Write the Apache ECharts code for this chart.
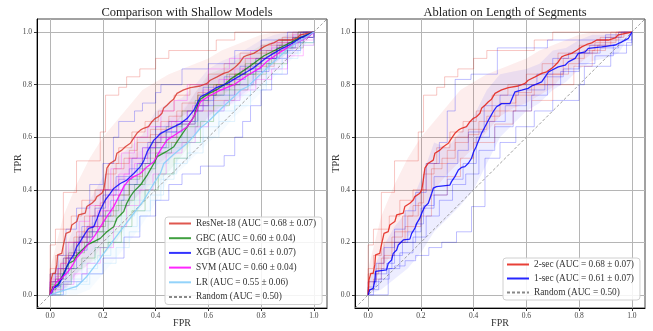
<!DOCTYPE html>
<html lang="en">
<head>
    <meta charset="UTF-8">
    <title>ROC curves</title>
    <style>
        html, body { margin: 0; padding: 0; background: #fff; }
        #main { width: 653px; height: 331px; }
    </style>
</head>
<body>
    <div id="main"></div>
    <script src="https://cdn.jsdelivr.net/npm/echarts@6.0.0/dist/echarts.min.js"></script>
    <script>
        // tick labels shared by both axes of both panels
        const tickVals = [0, 0.2, 0.4, 0.6, 0.8, 1.0];
        const tickLabels = ['0.0', '0.2', '0.4', '0.6', '0.8', '1.0'];

        // fpr grid used for the std bands
        const bandX = [0, 0.05, 0.1, 0.15, 0.2, 0.25, 0.3, 0.35, 0.4, 0.45, 0.5, 0.55, 0.6, 0.65, 0.7, 0.75, 0.8, 0.85, 0.9, 0.95, 1];

        // mean ROC curves [fpr, tpr]
        const resnetMean = [[0,0],[0.003,0.057],[0.01,0.082],[0.019,0.082],[0.025,0.114],[0.028,0.152],[0.044,0.158],[0.048,0.18],[0.06,0.234],[0.076,0.241],[0.082,0.266],[0.101,0.279],[0.108,0.304],[0.133,0.311],[0.139,0.336],[0.158,0.349],[0.171,0.361],[0.177,0.374],[0.196,0.387],[0.203,0.399],[0.209,0.437],[0.215,0.482],[0.228,0.501],[0.247,0.513],[0.253,0.539],[0.272,0.551],[0.285,0.564],[0.304,0.577],[0.316,0.596],[0.329,0.615],[0.342,0.627],[0.354,0.634],[0.373,0.64],[0.386,0.659],[0.399,0.672],[0.411,0.678],[0.424,0.691],[0.43,0.71],[0.443,0.722],[0.456,0.735],[0.468,0.745],[0.481,0.767],[0.506,0.78],[0.532,0.789],[0.569,0.795],[0.595,0.805],[0.607,0.817],[0.633,0.83],[0.658,0.843],[0.677,0.849],[0.696,0.862],[0.709,0.874],[0.721,0.887],[0.734,0.906],[0.747,0.912],[0.772,0.919],[0.791,0.931],[0.81,0.944],[0.829,0.953],[0.848,0.959],[0.867,0.97],[0.911,0.97],[0.937,0.978],[0.949,0.99],[1,1]];
        const gbcMean = [[0,0],[0.01,0.03],[0.03,0.04],[0.05,0.08],[0.07,0.12],[0.09,0.13],[0.1,0.15],[0.12,0.17],[0.14,0.19],[0.16,0.2],[0.19,0.215],[0.215,0.24],[0.241,0.259],[0.253,0.291],[0.279,0.317],[0.29,0.348],[0.304,0.374],[0.317,0.393],[0.342,0.418],[0.355,0.437],[0.368,0.456],[0.393,0.5],[0.406,0.526],[0.44,0.545],[0.469,0.564],[0.494,0.602],[0.52,0.64],[0.545,0.678],[0.558,0.72],[0.57,0.745],[0.6,0.765],[0.63,0.78],[0.66,0.8],[0.684,0.821],[0.722,0.846],[0.76,0.872],[0.811,0.91],[0.86,0.935],[0.913,0.961],[0.95,0.98],[1,1]];
        const xgbMean = [[0,0],[0.013,0.025],[0.032,0.038],[0.051,0.076],[0.063,0.108],[0.076,0.133],[0.089,0.152],[0.101,0.184],[0.114,0.203],[0.133,0.234],[0.146,0.253],[0.165,0.259],[0.178,0.291],[0.19,0.323],[0.209,0.361],[0.228,0.386],[0.241,0.405],[0.266,0.424],[0.291,0.437],[0.304,0.45],[0.317,0.462],[0.342,0.488],[0.355,0.51],[0.368,0.545],[0.38,0.565],[0.393,0.589],[0.405,0.6],[0.418,0.614],[0.443,0.627],[0.494,0.652],[0.52,0.672],[0.545,0.703],[0.57,0.754],[0.596,0.767],[0.633,0.79],[0.672,0.805],[0.697,0.82],[0.722,0.835],[0.748,0.85],[0.773,0.865],[0.798,0.885],[0.824,0.905],[0.849,0.92],[0.874,0.935],[0.913,0.955],[0.95,0.978],[1,1]];
        const svmMean = [[0,0],[0.013,0.03],[0.025,0.05],[0.04,0.06],[0.063,0.083],[0.082,0.108],[0.1,0.14],[0.127,0.171],[0.15,0.2],[0.171,0.228],[0.19,0.259],[0.215,0.298],[0.241,0.336],[0.266,0.386],[0.279,0.412],[0.298,0.437],[0.317,0.45],[0.342,0.462],[0.368,0.488],[0.393,0.507],[0.418,0.551],[0.443,0.589],[0.481,0.614],[0.52,0.64],[0.545,0.678],[0.57,0.735],[0.6,0.755],[0.646,0.779],[0.697,0.8],[0.748,0.835],[0.798,0.865],[0.824,0.89],[0.874,0.925],[0.925,0.955],[0.975,0.98],[1,1]];
        const lrMean = [[0,0],[0.03,0.01],[0.06,0.02],[0.101,0.032],[0.139,0.07],[0.177,0.12],[0.203,0.158],[0.241,0.209],[0.279,0.26],[0.317,0.31],[0.355,0.36],[0.393,0.424],[0.418,0.462],[0.431,0.5],[0.469,0.535],[0.52,0.577],[0.545,0.605],[0.57,0.635],[0.6,0.66],[0.62,0.68],[0.66,0.72],[0.697,0.754],[0.722,0.779],[0.748,0.792],[0.798,0.84],[0.824,0.865],[0.862,0.9],[0.9,0.935],[0.937,0.963],[0.97,0.98],[1,1]];
        const sec1Mean = [[0,0],[0.006,0.019],[0.019,0.025],[0.025,0.051],[0.028,0.089],[0.07,0.095],[0.076,0.12],[0.089,0.133],[0.095,0.158],[0.108,0.171],[0.114,0.19],[0.133,0.209],[0.158,0.212],[0.165,0.234],[0.177,0.253],[0.184,0.272],[0.196,0.292],[0.203,0.311],[0.215,0.336],[0.228,0.349],[0.241,0.387],[0.247,0.406],[0.259,0.412],[0.31,0.418],[0.316,0.431],[0.329,0.45],[0.342,0.475],[0.354,0.485],[0.367,0.488],[0.38,0.501],[0.392,0.52],[0.4,0.545],[0.41,0.565],[0.42,0.59],[0.43,0.615],[0.44,0.634],[0.45,0.653],[0.46,0.672],[0.474,0.697],[0.487,0.716],[0.506,0.728],[0.538,0.728],[0.551,0.76],[0.557,0.773],[0.582,0.779],[0.607,0.786],[0.62,0.795],[0.645,0.805],[0.658,0.811],[0.671,0.83],[0.684,0.849],[0.696,0.855],[0.721,0.868],[0.747,0.874],[0.759,0.887],[0.785,0.9],[0.797,0.919],[0.823,0.925],[0.835,0.938],[0.886,0.944],[0.937,0.951],[0.962,0.963],[0.987,0.976],[1,1]];

        // std bands (lower / upper) on bandX
        const resnetLow = [0,0.1,0.17,0.22,0.28,0.4,0.46,0.51,0.56,0.62,0.68,0.71,0.73,0.76,0.79,0.85,0.88,0.92,0.94,0.97,1];
        const resnetHigh = [0.1,0.3,0.42,0.52,0.6,0.66,0.72,0.78,0.81,0.84,0.86,0.88,0.9,0.93,0.95,0.97,0.99,1,1,1,1];
        const gbcLow = [0,0.02,0.08,0.12,0.15,0.2,0.28,0.34,0.42,0.47,0.53,0.6,0.68,0.72,0.76,0.8,0.85,0.88,0.92,0.95,1];
        const gbcHigh = [0.06,0.14,0.22,0.27,0.3,0.36,0.45,0.52,0.6,0.63,0.69,0.77,0.84,0.86,0.89,0.92,0.95,0.97,0.99,1,1];
        const xgbLow = [0,0.01,0.08,0.15,0.23,0.3,0.34,0.4,0.49,0.53,0.56,0.61,0.67,0.7,0.74,0.78,0.83,0.88,0.92,0.96,1];
        const xgbHigh = [0.07,0.16,0.28,0.36,0.45,0.52,0.56,0.61,0.7,0.73,0.75,0.8,0.86,0.89,0.91,0.94,0.97,0.99,1,1,1];
        const svmLow = [0,0.01,0.07,0.12,0.19,0.27,0.35,0.39,0.44,0.51,0.55,0.61,0.68,0.71,0.73,0.77,0.8,0.85,0.89,0.93,1];
        const svmHigh = [0.06,0.13,0.21,0.28,0.36,0.44,0.53,0.55,0.6,0.67,0.7,0.77,0.83,0.85,0.87,0.9,0.93,0.96,0.99,1,1];
        const lrLow = [0,0,0,0.02,0.08,0.14,0.2,0.27,0.35,0.44,0.48,0.53,0.58,0.62,0.68,0.72,0.77,0.83,0.88,0.93,1];
        const lrHigh = [0.05,0.06,0.09,0.16,0.24,0.31,0.38,0.44,0.52,0.61,0.64,0.69,0.74,0.78,0.83,0.87,0.91,0.95,0.98,1,1];
        const sec1Low = [0,0.02,0.06,0.1,0.16,0.24,0.29,0.34,0.4,0.5,0.6,0.65,0.7,0.73,0.78,0.81,0.86,0.89,0.9,0.92,1];
        const sec1High = [0.05,0.17,0.26,0.32,0.44,0.58,0.56,0.62,0.68,0.78,0.84,0.85,0.86,0.88,0.93,0.94,0.97,0.99,0.99,0.99,1];

        // per-fold ROC curves, points where tpr jumps (drawn as steps)
        const resnetFolds = [
            [[0,0],[0,0.19],[0.02,0.25],[0.05,0.39],[0.1,0.51],[0.19,0.62],[0.21,0.76],[0.26,0.79],[0.29,0.83],[0.34,0.86],[0.4,0.9],[0.45,0.93],[0.63,0.97],[0.7,1],[1,1]],
            [[0,0],[0,0.05],[0.03,0.1],[0.06,0.15],[0.1,0.2],[0.14,0.26],[0.2,0.3],[0.24,0.38],[0.3,0.45],[0.35,0.52],[0.4,0.58],[0.48,0.65],[0.55,0.7],[0.62,0.74],[0.7,0.8],[0.78,0.87],[0.85,0.93],[0.9,0.97],[0.95,1],[1,1]],
            [[0,0],[0,0.1],[0.02,0.15],[0.05,0.25],[0.08,0.3],[0.12,0.36],[0.17,0.4],[0.22,0.5],[0.26,0.56],[0.31,0.62],[0.36,0.66],[0.41,0.7],[0.47,0.76],[0.53,0.8],[0.6,0.84],[0.66,0.88],[0.72,0.92],[0.8,0.95],[0.88,0.98],[0.92,1],[1,1]],
            [[0,0],[0,0.08],[0.04,0.12],[0.06,0.2],[0.1,0.24],[0.15,0.3],[0.19,0.35],[0.21,0.46],[0.25,0.5],[0.3,0.55],[0.33,0.6],[0.38,0.63],[0.45,0.68],[0.5,0.73],[0.56,0.77],[0.62,0.8],[0.68,0.84],[0.74,0.9],[0.82,0.93],[0.86,0.96],[0.94,1],[1,1]],
            [[0,0],[0,0.02],[0.02,0.06],[0.05,0.14],[0.09,0.22],[0.13,0.3],[0.17,0.34],[0.2,0.4],[0.24,0.48],[0.28,0.52],[0.33,0.58],[0.38,0.61],[0.42,0.66],[0.48,0.7],[0.56,0.76],[0.63,0.8],[0.7,0.84],[0.76,0.88],[0.8,0.92],[0.87,0.95],[0.92,0.98],[0.97,1],[1,1]]
        ];
        const gbcFolds = [
            [[0,0],[0,0.04],[0.03,0.08],[0.06,0.14],[0.1,0.2],[0.15,0.24],[0.2,0.28],[0.25,0.34],[0.3,0.42],[0.35,0.48],[0.4,0.56],[0.45,0.6],[0.5,0.66],[0.55,0.74],[0.6,0.8],[0.67,0.84],[0.74,0.88],[0.8,0.93],[0.88,0.97],[0.94,1],[1,1]],
            [[0,0],[0.02,0],[0.04,0.04],[0.08,0.1],[0.12,0.14],[0.17,0.18],[0.22,0.2],[0.27,0.26],[0.31,0.32],[0.36,0.4],[0.41,0.46],[0.47,0.52],[0.52,0.58],[0.57,0.66],[0.62,0.72],[0.68,0.78],[0.75,0.84],[0.82,0.88],[0.9,0.94],[0.96,0.98],[1,1]],
            [[0,0],[0,0.02],[0.02,0.06],[0.05,0.1],[0.09,0.16],[0.13,0.2],[0.18,0.24],[0.22,0.3],[0.27,0.36],[0.32,0.42],[0.36,0.5],[0.4,0.54],[0.46,0.58],[0.52,0.64],[0.56,0.72],[0.6,0.76],[0.66,0.8],[0.72,0.84],[0.78,0.9],[0.86,0.94],[0.92,0.98],[1,1]],
            [[0,0],[0.01,0.05],[0.04,0.1],[0.07,0.16],[0.11,0.22],[0.16,0.26],[0.21,0.32],[0.26,0.38],[0.3,0.44],[0.34,0.5],[0.38,0.58],[0.44,0.64],[0.5,0.7],[0.56,0.76],[0.63,0.8],[0.7,0.84],[0.76,0.88],[0.84,0.92],[0.9,0.96],[1,1]]
        ];
        const xgbFolds = [
            [[0,0],[0,0.08],[0.03,0.15],[0.06,0.25],[0.1,0.33],[0.15,0.42],[0.2,0.5],[0.24,0.6],[0.26,0.66],[0.32,0.7],[0.35,0.73],[0.4,0.77],[0.42,0.8],[0.5,0.86],[0.6,0.88],[0.7,0.93],[0.8,0.97],[0.9,1],[1,1]],
            [[0,0],[0.05,0],[0.05,0.05],[0.12,0.08],[0.2,0.14],[0.28,0.22],[0.34,0.3],[0.4,0.36],[0.45,0.42],[0.5,0.46],[0.57,0.49],[0.66,0.53],[0.7,0.6],[0.73,0.66],[0.76,0.72],[0.8,0.78],[0.84,0.84],[0.9,0.93],[0.95,1],[1,1]],
            [[0,0],[0,0.03],[0.04,0.08],[0.07,0.15],[0.11,0.22],[0.16,0.3],[0.2,0.38],[0.25,0.45],[0.3,0.48],[0.35,0.56],[0.4,0.64],[0.45,0.66],[0.52,0.7],[0.58,0.79],[0.66,0.83],[0.72,0.87],[0.78,0.9],[0.86,0.95],[0.92,0.98],[1,1]],
            [[0,0],[0.01,0.03],[0.03,0.06],[0.06,0.1],[0.1,0.17],[0.14,0.24],[0.18,0.3],[0.23,0.36],[0.28,0.42],[0.33,0.5],[0.38,0.56],[0.44,0.62],[0.5,0.66],[0.56,0.74],[0.62,0.78],[0.68,0.82],[0.74,0.86],[0.8,0.9],[0.86,0.94],[0.93,0.98],[1,1]],
            [[0,0],[0,0.05],[0.02,0.1],[0.05,0.14],[0.09,0.2],[0.12,0.26],[0.17,0.33],[0.21,0.4],[0.26,0.44],[0.31,0.52],[0.37,0.58],[0.42,0.62],[0.48,0.65],[0.55,0.72],[0.62,0.76],[0.7,0.8],[0.77,0.85],[0.83,0.9],[0.9,0.96],[0.96,1],[1,1]]
        ];
        const svmFolds = [
            [[0,0],[0,0.05],[0.03,0.1],[0.06,0.14],[0.1,0.2],[0.14,0.26],[0.18,0.32],[0.22,0.38],[0.26,0.46],[0.3,0.52],[0.35,0.56],[0.4,0.6],[0.46,0.66],[0.52,0.7],[0.58,0.78],[0.64,0.82],[0.7,0.86],[0.76,0.9],[0.84,0.94],[0.9,0.97],[1,1]],
            [[0,0],[0.02,0.02],[0.05,0.04],[0.09,0.08],[0.14,0.12],[0.19,0.18],[0.24,0.26],[0.29,0.34],[0.34,0.4],[0.39,0.46],[0.44,0.54],[0.5,0.58],[0.55,0.64],[0.6,0.7],[0.66,0.74],[0.72,0.78],[0.78,0.82],[0.84,0.86],[0.9,0.91],[0.96,0.95],[1,1]],
            [[0,0],[0,0.03],[0.02,0.07],[0.05,0.1],[0.08,0.16],[0.12,0.22],[0.16,0.26],[0.2,0.32],[0.24,0.4],[0.28,0.46],[0.32,0.5],[0.37,0.54],[0.42,0.6],[0.48,0.66],[0.54,0.72],[0.6,0.78],[0.66,0.82],[0.73,0.86],[0.8,0.9],[0.87,0.94],[0.94,0.98],[1,1]],
            [[0,0],[0,0.06],[0.04,0.12],[0.07,0.2],[0.11,0.28],[0.15,0.34],[0.19,0.4],[0.23,0.48],[0.27,0.54],[0.32,0.6],[0.37,0.64],[0.42,0.7],[0.47,0.74],[0.52,0.8],[0.6,0.86],[0.68,0.9],[0.76,0.93],[0.84,0.96],[0.92,0.99],[1,1]]
        ];
        const lrFolds = [
            [[0,0],[0.03,0],[0.06,0.02],[0.1,0.04],[0.15,0.08],[0.2,0.12],[0.25,0.18],[0.3,0.24],[0.34,0.3],[0.38,0.36],[0.42,0.44],[0.47,0.5],[0.52,0.54],[0.58,0.6],[0.64,0.66],[0.7,0.72],[0.76,0.78],[0.82,0.84],[0.88,0.9],[0.94,0.95],[1,1]],
            [[0,0],[0,0.02],[0.04,0.04],[0.08,0.06],[0.12,0.12],[0.17,0.18],[0.22,0.24],[0.27,0.3],[0.32,0.36],[0.36,0.42],[0.4,0.5],[0.45,0.56],[0.5,0.6],[0.55,0.66],[0.6,0.7],[0.66,0.74],[0.72,0.8],[0.78,0.86],[0.85,0.92],[0.92,0.96],[1,1]],
            [[0,0],[0.02,0],[0.05,0.03],[0.1,0.05],[0.14,0.1],[0.18,0.15],[0.23,0.2],[0.28,0.26],[0.33,0.32],[0.38,0.38],[0.43,0.46],[0.48,0.52],[0.53,0.58],[0.58,0.64],[0.64,0.7],[0.7,0.76],[0.76,0.8],[0.82,0.86],[0.88,0.92],[0.95,0.96],[1,1]]
        ];
        const sec1Folds = [
            [[0,0],[0.076,0],[0.076,0.1],[0.1,0.11],[0.14,0.13],[0.18,0.15],[0.23,0.18],[0.279,0.2],[0.335,0.24],[0.392,0.336],[0.443,0.52],[0.5,0.58],[0.56,0.64],[0.63,0.7],[0.7,0.74],[0.8,0.8],[0.82,0.87],[0.92,0.92],[0.98,0.96],[1,1]],
            [[0,0],[0,0.05],[0.03,0.12],[0.06,0.18],[0.1,0.25],[0.14,0.32],[0.18,0.39],[0.22,0.5],[0.27,0.58],[0.3,0.7],[0.33,0.82],[0.39,0.84],[0.49,0.94],[0.68,0.97],[0.9,0.99],[0.95,1],[1,1]],
            [[0,0],[0,0.03],[0.03,0.08],[0.07,0.12],[0.1,0.2],[0.15,0.24],[0.2,0.33],[0.25,0.38],[0.3,0.44],[0.36,0.5],[0.41,0.6],[0.46,0.66],[0.52,0.72],[0.6,0.78],[0.67,0.83],[0.74,0.86],[0.8,0.92],[0.88,0.94],[0.95,0.97],[1,1]],
            [[0,0],[0.02,0.02],[0.04,0.06],[0.08,0.1],[0.12,0.16],[0.17,0.22],[0.22,0.3],[0.27,0.36],[0.32,0.42],[0.37,0.46],[0.42,0.55],[0.48,0.64],[0.55,0.7],[0.62,0.76],[0.68,0.8],[0.73,0.85],[0.8,0.88],[0.86,0.91],[0.93,0.95],[1,1]],
            [[0,0],[0,0.02],[0.02,0.05],[0.05,0.1],[0.09,0.15],[0.13,0.2],[0.18,0.27],[0.21,0.34],[0.25,0.45],[0.3,0.5],[0.34,0.55],[0.38,0.62],[0.44,0.72],[0.5,0.76],[0.57,0.8],[0.64,0.84],[0.7,0.9],[0.76,0.92],[0.84,0.95],[0.9,0.98],[0.96,1],[1,1]]
        ];
        const chanceLine = [[-0.05, -0.05], [1.05, 1.05]];

        const leftNames = ['ResNet-18 (AUC = 0.68 \u00b1 0.07)', 'GBC (AUC = 0.60 \u00b1 0.04)', 'XGB (AUC = 0.61 \u00b1 0.07)', 'SVM (AUC = 0.60 \u00b1 0.04)', 'LR (AUC = 0.55 \u00b1 0.06)', 'Random (AUC = 0.50)'];
        const rightNames = ['2-sec (AUC = 0.68 \u00b1 0.07)', '1-sec (AUC = 0.61 \u00b1 0.07)', 'Random (AUC = 0.50)'];

        const FONT = 'Liberation Serif';
        const myChart = echarts.init(document.getElementById('main'), null, { renderer: 'canvas' });

        function rgba(c, a) { return 'rgba(' + c.join(',') + ',' + a + ')'; }

        function bandSeries(low, high, col, idx, a) {
            return {
                type: 'custom', xAxisIndex: idx, yAxisIndex: idx, silent: true, z: 1,
                data: [[0, 0]],
                renderItem: function (params, api) {
                    const pts = [];
                    for (let i = 0; i < bandX.length; i++) pts.push(api.coord([bandX[i], high[i]]));
                    for (let i = bandX.length - 1; i >= 0; i--) pts.push(api.coord([bandX[i], low[i]]));
                    return { type: 'polygon', shape: { points: pts }, style: { fill: rgba(col, a) } };
                }
            };
        }
        function foldSeries(folds, col, idx) {
            return folds.map(f => ({
                type: 'line', xAxisIndex: idx, yAxisIndex: idx, data: f, step: 'end',
                symbol: 'none', silent: true, z: 2,
                lineStyle: { color: rgba(col, 0.25), width: 1 }
            }));
        }
        function meanSeries(name, data, col, idx, a) {
            return {
                name: name, type: 'line', xAxisIndex: idx, yAxisIndex: idx, data: data,
                symbol: 'none', z: 4, color: rgba(col, a),
                itemStyle: { opacity: 0 },
                lineStyle: { color: rgba(col, a), width: 1.3 }
            };
        }
        function chanceSeries(idx) {
            return {
                name: 'Random (AUC = 0.50)', type: 'line', xAxisIndex: idx, yAxisIndex: idx, data: chanceLine,
                symbol: 'none', z: 3, color: '#888',
                itemStyle: { opacity: 0 },
                lineStyle: { color: '#888', width: 0.8, type: [3, 2] }
            };
        }

        const RED = [228, 30, 20], GREEN = [0, 128, 0], BLUE = [0, 0, 255], MAG = [255, 0, 255], SKY = [135, 206, 250];

        const series = [].concat(
            bandSeries(resnetLow, resnetHigh, RED, 0, 0.07),
            bandSeries(gbcLow, gbcHigh, GREEN, 0, 0.05),
            bandSeries(xgbLow, xgbHigh, BLUE, 0, 0.05),
            bandSeries(svmLow, svmHigh, MAG, 0, 0.05),
            bandSeries(lrLow, lrHigh, SKY, 0, 0.08),
            foldSeries(resnetFolds, RED, 0),
            foldSeries(gbcFolds, GREEN, 0),
            foldSeries(xgbFolds, BLUE, 0),
            foldSeries(svmFolds, MAG, 0),
            foldSeries(lrFolds, SKY, 0),
            meanSeries(leftNames[0], resnetMean, [215, 45, 35], 0, 0.8),
            meanSeries(leftNames[1], gbcMean, GREEN, 0, 0.75),
            meanSeries(leftNames[2], xgbMean, BLUE, 0, 0.8),
            meanSeries(leftNames[3], svmMean, MAG, 0, 0.85),
            meanSeries(leftNames[4], lrMean, SKY, 0, 0.9),
            chanceSeries(0),
            bandSeries(resnetLow, resnetHigh, RED, 1, 0.08),
            bandSeries(sec1Low, sec1High, BLUE, 1, 0.07),
            foldSeries(resnetFolds, RED, 1),
            foldSeries(sec1Folds, BLUE, 1),
            meanSeries(rightNames[0], resnetMean, RED, 1, 0.85),
            meanSeries(rightNames[1], sec1Mean, BLUE, 1, 0.85),
            chanceSeries(1)
        );

        function makeAxis(dim, idx, name, gap) {
            return {
                type: 'value', gridIndex: idx, min: -0.05, max: 1.05,
                name: name, nameLocation: 'middle', nameGap: gap, nameMoveOverlap: false,
                nameTextStyle: { fontFamily: FONT, fontSize: 10, color: '#333' },
                axisLine: { show: true, onZero: false, lineStyle: { color: '#000', width: 1 } },
                axisTick: { show: true, length: 3, customValues: tickVals, lineStyle: { color: '#333' } },
                axisLabel: {
                    customValues: tickVals, margin: dim === 'x' ? 4 : 5,
                    fontFamily: FONT, fontSize: 7.5, color: '#444',
                    formatter: v => tickLabels[tickVals.findIndex(t => Math.abs(t - v) < 1e-6)] || ''
                },
                splitLine: { show: true, lineStyle: { color: '#b5b5b5', width: 1 } }
            };
        }

        function legendBox(names, left, top, gap) {
            return {
                data: names, orient: 'vertical', left: left, top: top,
                itemWidth: 22, itemHeight: 11, itemGap: gap,
                padding: [1, 6, 2, 3], selectedMode: false,
                itemStyle: { opacity: 0 },
                backgroundColor: 'rgba(255,255,255,0.85)', borderColor: '#d0d0d0', borderWidth: 1, borderRadius: 3,
                textStyle: { fontFamily: FONT, fontSize: 9.3, color: '#333', lineHeight: 11 }
            };
        }

        const option = {
            animation: false,
            backgroundColor: '#fff',
            title: [
                { text: 'Comparison with Shallow Models', left: 182, top: 1, textAlign: 'center',
                  textStyle: { fontFamily: FONT, fontSize: 12.5, fontWeight: 'normal', color: '#222' } },
                { text: 'Ablation on Length of Segments', left: 500, top: 1, textAlign: 'center',
                  textStyle: { fontFamily: FONT, fontSize: 12.5, fontWeight: 'normal', color: '#222' } }
            ],
            grid: [
                { left: 37, top: 19, width: 290, height: 289, show: true, borderColor: '#444', borderWidth: 1,
                  containLabel: false, outerBoundsMode: 'none' },
                { left: 355, top: 19, width: 290, height: 289, show: true, borderColor: '#444', borderWidth: 1,
                  containLabel: false, outerBoundsMode: 'none' }
            ],
            xAxis: [makeAxis('x', 0, 'FPR', 10), makeAxis('x', 1, 'FPR', 10)],
            yAxis: [makeAxis('y', 0, 'TPR', 14), makeAxis('y', 1, 'TPR', 14)],
            legend: [legendBox(leftNames, 165, 217, 3.7), legendBox(rightNames, 503, 258, 3.0)],
            series: series
        };
        myChart.setOption(option);
    </script>
</body>
</html>
